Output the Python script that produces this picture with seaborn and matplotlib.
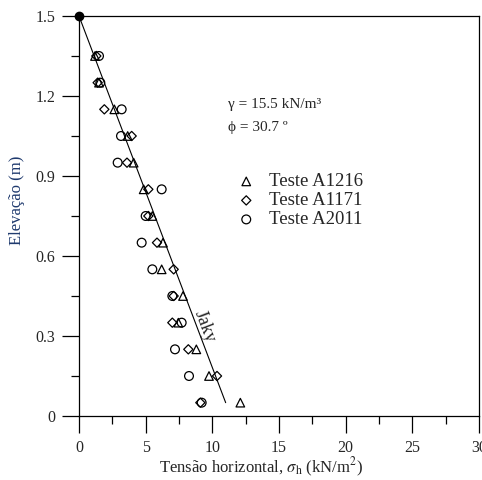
import numpy as np
import pandas as pd
import seaborn as sns
import matplotlib.pyplot as plt
from matplotlib.ticker import MultipleLocator

# elevations of the readings (m)
elev = [1.35, 1.25, 1.15, 1.05, 0.95, 0.85, 0.75, 0.65, 0.55, 0.45, 0.35, 0.25, 0.15, 0.05]

# horizontal stress readings (kN/m2), one per elevation
a1216 = [1.2, 1.5, 2.65, 3.65, 4.1, 4.85, 5.5, 6.3, 6.2, 7.8, 7.45, 8.8, 9.75, 12.1]
a1171 = [1.3, 1.4, 1.9, 3.95, 3.6, 5.2, 5.2, 5.85, 7.1, 7.1, 7.0, 8.2, 10.35, 9.1]
a2011 = [1.5, 1.6, 3.2, 3.15, 2.9, 6.2, 5.0, 4.7, 5.5, 7.0, 7.7, 7.2, 8.25, 9.2]

# Jaky line end points
jaky_x = [0.0, 11.0]
jaky_y = [1.5, 0.05]

series = [
    ('Teste A1216', a1216, '^', 38),
    ('Teste A1171', a1171, 'D', 22),
    ('Teste A2011', a2011, 'o', 40),
]

sns.set_theme(style="white")
plt.rcParams['font.family'] = ['Liberation Serif', 'DejaVu Serif']
plt.rcParams['mathtext.fontset'] = 'stix'

fig = plt.figure(figsize=(4.82, 4.80), dpi=100)
ax = fig.add_axes([79 / 482, 1 - 416 / 480, 400 / 482, 400 / 480])

sns.lineplot(x=jaky_x, y=jaky_y, ax=ax, color='black', lw=0.8, sort=False)

for name, vals, mk, sz in series:
    df = pd.DataFrame({'x': vals, 'y': elev})
    sns.scatterplot(data=df, x='x', y='y', ax=ax, marker=mk, s=sz,
                    facecolor='none', edgecolor='black', linewidth=0.9,
                    label=name, zorder=3)

ax.plot([0], [1.5], 'o', color='black', ms=6, zorder=4, clip_on=False)

ax.set_xlim(0, 30)
ax.set_ylim(0, 1.5)
ax.xaxis.set_major_locator(MultipleLocator(5))
ax.xaxis.set_minor_locator(MultipleLocator(2.5))
ax.yaxis.set_major_locator(MultipleLocator(0.3))
ax.yaxis.set_minor_locator(MultipleLocator(0.15))
ax.yaxis.set_major_formatter(lambda v, p: '0' if abs(v) < 1e-9 else f'{v:.1f}')
ax.tick_params(which='major', direction='out', length=12, width=0.9,
               labelsize=11.5, color='black', bottom=True, left=True)
ax.tick_params(which='minor', direction='out', length=5.5, width=0.9,
               color='black', bottom=True, left=True)
ax.tick_params(axis='x', which='major', pad=5)
ax.tick_params(axis='y', which='major', pad=5)
for s in ax.spines.values():
    s.set_color('black')
    s.set_linewidth(0.9)

ax.set_xlabel(r'Tensão horizontal, $\sigma_{\mathrm{h}}$ (kN/m$^{2}$)', fontsize=12)
ax.xaxis.set_label_coords(0.455, -0.1)
ax.set_ylabel('Elevação (m)', fontsize=12, color='#1f3a6e')
ax.yaxis.set_label_coords(-0.135, 0.54)

ax.text(11.2, 1.155, 'γ = 15.5 kN/m³', fontsize=11)
ax.text(11.2, 1.07, 'ϕ = 30.7 º', fontsize=11)
ax.text(9.45, 0.335, 'Jaky', fontsize=13, rotation=-69, ha='center', va='center')

ax.legend(frameon=False, loc='upper left', bbox_to_anchor=(0.39, 0.607),
          fontsize=13.5, handletextpad=0.6, labelspacing=0.1, handlelength=1.2,
          borderaxespad=0, borderpad=0)

fig.savefig('out.png', dpi=100)
